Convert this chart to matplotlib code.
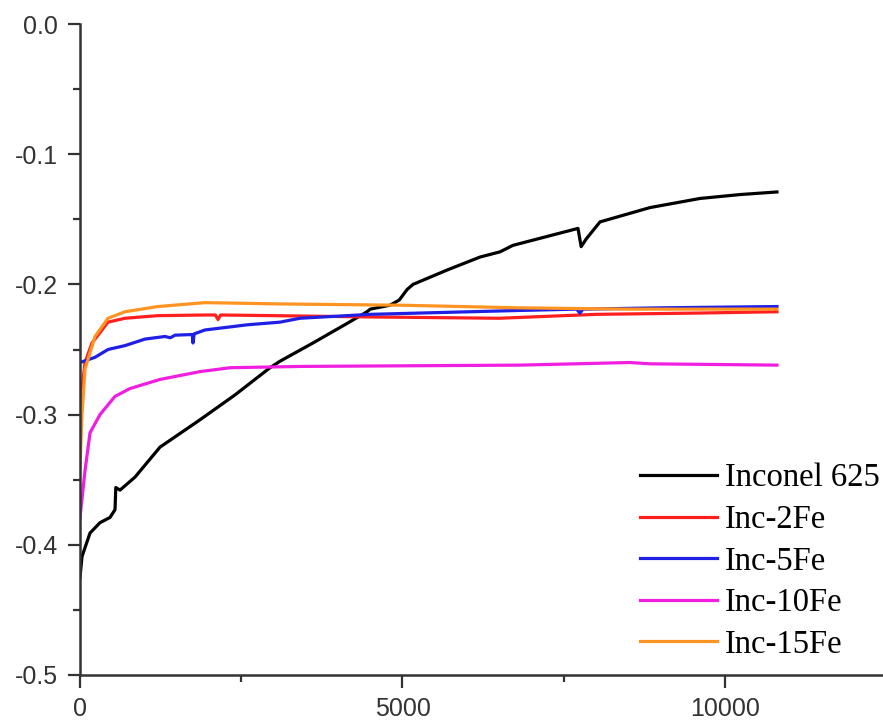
import matplotlib.pyplot as plt

# valeurs (temps en s, potentiel en V)
t_inconel = [0, 31, 155, 310, 465, 543, 555, 620, 853, 1240, 1860, 2400, 2946, 3101, 3612,
             4140, 4450, 4500, 4806, 4950, 5070, 5163, 5690, 6202, 6512, 6713, 7721, 7770,
             7850, 8062, 8837, 9612, 10233, 10806]
v_inconel = [-0.425, -0.409, -0.391, -0.383, -0.379, -0.373, -0.356, -0.358, -0.348, -0.325,
             -0.304, -0.285, -0.264, -0.259, -0.245, -0.230, -0.221, -0.219, -0.216, -0.212,
             -0.204, -0.200, -0.189, -0.179, -0.175, -0.170, -0.157, -0.171, -0.165, -0.152,
             -0.141, -0.134, -0.131, -0.129]

t_2fe = [0, 31, 78, 186, 434, 698, 1209, 1938, 2100, 2140, 2180, 3000, 4500, 6500, 7000,
         8000, 9600, 10806]
v_2fe = [-0.32, -0.28, -0.26, -0.245, -0.229, -0.226, -0.224, -0.2235, -0.2235, -0.227,
         -0.2235, -0.224, -0.225, -0.226, -0.225, -0.223, -0.222, -0.221]

t_5fe = [0, 233, 434, 698, 1008, 1318, 1400, 1473, 1740, 1752, 1770, 1938, 2600, 3101, 3411,
         4500, 6822, 7700, 7750, 7800, 9000, 10806]
v_5fe = [-0.260, -0.256, -0.250, -0.247, -0.242, -0.240, -0.241, -0.239, -0.2385, -0.245,
         -0.238, -0.235, -0.231, -0.229, -0.226, -0.223, -0.220, -0.219, -0.222, -0.219,
         -0.218, -0.217]

t_10fe = [0, 78, 155, 310, 543, 775, 1240, 1860, 2326, 3411, 6822, 8527, 8837, 10806]
v_10fe = [-0.379, -0.343, -0.314, -0.300, -0.286, -0.280, -0.273, -0.267, -0.264, -0.263,
          -0.262, -0.260, -0.261, -0.262]

t_15fe = [0, 31, 78, 233, 434, 698, 1209, 1938, 3100, 5000, 6800, 8500, 10806]
v_15fe = [-0.34, -0.30, -0.265, -0.240, -0.226, -0.221, -0.217, -0.214, -0.215, -0.216,
          -0.218, -0.219, -0.219]

labels = ['Inconel 625', 'Inc-2Fe', 'Inc-5Fe', 'Inc-10Fe', 'Inc-15Fe']

fig = plt.figure(figsize=(8.83, 7.23), dpi=100)
ax = fig.add_axes([80 / 883, 48 / 723, 1 - 80 / 883, 651 / 723])

ax.plot(t_inconel, v_inconel, color='black', lw=2.3, label=labels[0])
ax.plot(t_2fe, v_2fe, color='#ff1f1f', lw=2.3, label=labels[1])
ax.plot(t_5fe, v_5fe, color='#1f1fe6', lw=2.3, label=labels[2])
ax.plot(t_10fe, v_10fe, color='#f01ee0', lw=2.3, label=labels[3])
ax.plot(t_15fe, v_15fe, color='#ff9422', lw=2.3, label=labels[4])

ax.set_xlim(0, 12450)
ax.set_ylim(-0.5, 0.0)
ax.set_xticks([0, 5000, 10000])
ax.set_xticks([2500, 7500], minor=True)
ax.set_yticks([-0.5, -0.4, -0.3, -0.2, -0.1, 0.0])
ax.set_yticks([-0.45, -0.35, -0.25, -0.15, -0.05], minor=True)
ax.set_yticklabels(['-0.5', '-0.4', '-0.3', '-0.2', '-0.1', '0.0'])

ax.spines['top'].set_visible(False)
ax.spines['right'].set_visible(False)
ax.spines['left'].set_linewidth(1.8)
ax.spines['bottom'].set_linewidth(1.8)
ax.spines['left'].set_color('#333333')
ax.spines['bottom'].set_color('#333333')

ax.tick_params(which='major', length=9, width=1.6, pad=7, color='#333333',
               labelsize=18, labelcolor='#333333')
ax.tick_params(which='minor', length=5, width=1.6, color='#333333')
for lab in ax.get_xticklabels() + ax.get_yticklabels():
    lab.set_family('Liberation Sans')

ax.legend(loc='upper left', bbox_to_anchor=(560 / 803, 1 - (463 - 24) / 651),
          frameon=False, prop={'family': 'Liberation Serif', 'size': 23.5},
          handlelength=2.35, handletextpad=0.25, labelspacing=0.34,
          borderaxespad=0, borderpad=0)

plt.savefig('out.png', dpi=100)
